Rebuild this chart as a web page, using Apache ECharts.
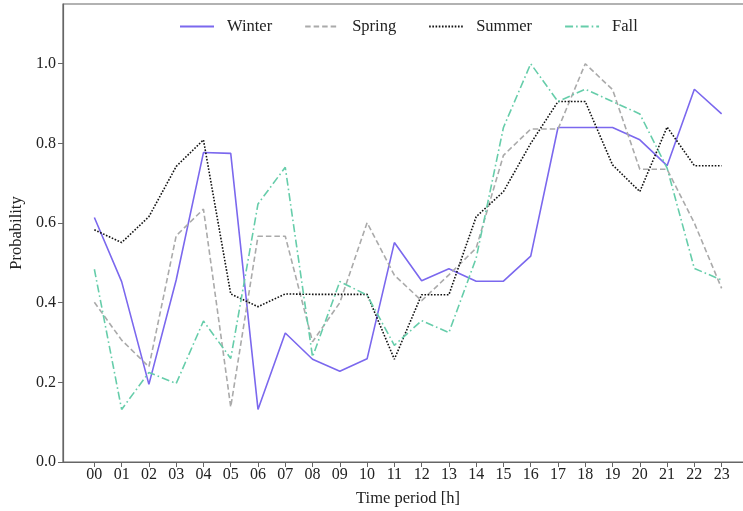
<!DOCTYPE html>
<html>
<head>
<meta charset="utf-8">
<script src="https://cdn.jsdelivr.net/npm/echarts@6/dist/echarts.min.js"></script>
<style>
  html, body { margin: 0; padding: 0; background: #fff; }
  #chart { width: 743px; height: 511px; }
</style>
</head>
<body>
<div id="chart"></div>
<script>
// Hour-of-day categories and tick labels
const hours = [0,1,2,3,4,5,6,7,8,9,10,11,12,13,14,15,16,17,18,19,20,21,22,23];
const hourLabels = ['00','01','02','03','04','05','06','07','08','09','10','11',
                    '12','13','14','15','16','17','18','19','20','21','22','23'];
const yTicks = [0, 0.2, 0.4, 0.6, 0.8, 1.0];

// Probability per hour, by season
const winter = [0.614,0.453,0.195,0.457,0.777,0.775,0.132,0.324,0.258,0.228,0.259,0.551,
                0.455,0.485,0.454,0.454,0.517,0.840,0.840,0.840,0.809,0.744,0.936,0.874];
const spring = [0.401,0.306,0.239,0.568,0.635,0.138,0.567,0.567,0.302,0.400,0.601,0.469,
                0.405,0.470,0.537,0.770,0.836,0.836,1.000,0.935,0.735,0.735,0.600,0.436];
const summer = [0.583,0.551,0.616,0.742,0.809,0.422,0.390,0.422,0.421,0.421,0.421,0.258,
                0.420,0.420,0.616,0.679,0.800,0.905,0.905,0.746,0.679,0.841,0.744,0.744];
const fall   = [0.484,0.132,0.225,0.197,0.354,0.260,0.648,0.740,0.264,0.453,0.419,0.293,
                0.355,0.325,0.512,0.840,1.000,0.905,0.936,0.905,0.874,0.738,0.486,0.457];

const font = 'Liberation Serif';
const toPairs = arr => arr.map((v, i) => [hours[i], v]);

function lineSeries(name, data, color, dash) {
  return {
    name: name,
    type: 'line',
    data: toPairs(data),
    symbol: 'none',
    animation: false,
    lineStyle: { color: color, width: 1.6, type: dash },
    itemStyle: { color: color }
  };
}

const chart = echarts.init(document.getElementById('chart'), null, { renderer: 'canvas' });
chart.setOption({
  backgroundColor: '#fff',
  textStyle: { fontFamily: font },
  legend: {
    top: 13,
    left: 174,
    itemWidth: 34,
    itemHeight: 10,
    itemGap: 32,
    itemStyle: { opacity: 0 },
    textStyle: { fontFamily: font, fontSize: 16.5, color: '#222', padding: [0, 0, 0, 8] },
    data: ['Winter', 'Spring', 'Summer', 'Fall']
  },
  grid: {
    left: 63, right: -10, top: 4, bottom: 49,
    outerBoundsMode: 'none',
    containLabel: false,
    show: true, borderColor: '#666', borderWidth: 1.2
  },
  xAxis: {
    type: 'value',
    min: -1.15, max: 24.15,
    name: 'Time period [h]',
    nameLocation: 'middle',
    nameGap: 28,
    nameTextStyle: { fontFamily: font, fontSize: 16.5, color: '#222' },
    splitLine: { show: false },
    axisLine: { show: true, onZero: false, lineStyle: { color: '#666', width: 1.2 } },
    axisTick: { show: true, length: 5, lineStyle: { color: '#666' }, customValues: hours },
    axisLabel: {
      fontFamily: font, fontSize: 16, color: '#222', margin: 5,
      customValues: hours,
      formatter: v => hourLabels[Math.round(v)]
    }
  },
  yAxis: {
    type: 'value',
    min: 0, max: 1.15,
    name: 'Probability',
    nameLocation: 'middle',
    nameGap: 38,
    nameTextStyle: { fontFamily: font, fontSize: 16.5, color: '#222' },
    splitLine: { show: false },
    axisLine: { show: true, onZero: false, lineStyle: { color: '#666', width: 1.2 } },
    axisTick: { show: true, length: 5, lineStyle: { color: '#666' }, customValues: yTicks },
    axisLabel: {
      fontFamily: font, fontSize: 16, color: '#222', margin: 7,
      customValues: yTicks,
      formatter: v => v.toFixed(1)
    }
  },
  series: [
    lineSeries('Winter', winter, '#7b68ee', 'solid'),
    lineSeries('Spring', spring, '#aaaaaa', [5.5, 3]),
    lineSeries('Summer', summer, '#111111', [1.6, 1.6]),
    lineSeries('Fall', fall, '#66cdaa', [8, 3, 1.6, 3])
  ]
});
</script>
</body>
</html>
